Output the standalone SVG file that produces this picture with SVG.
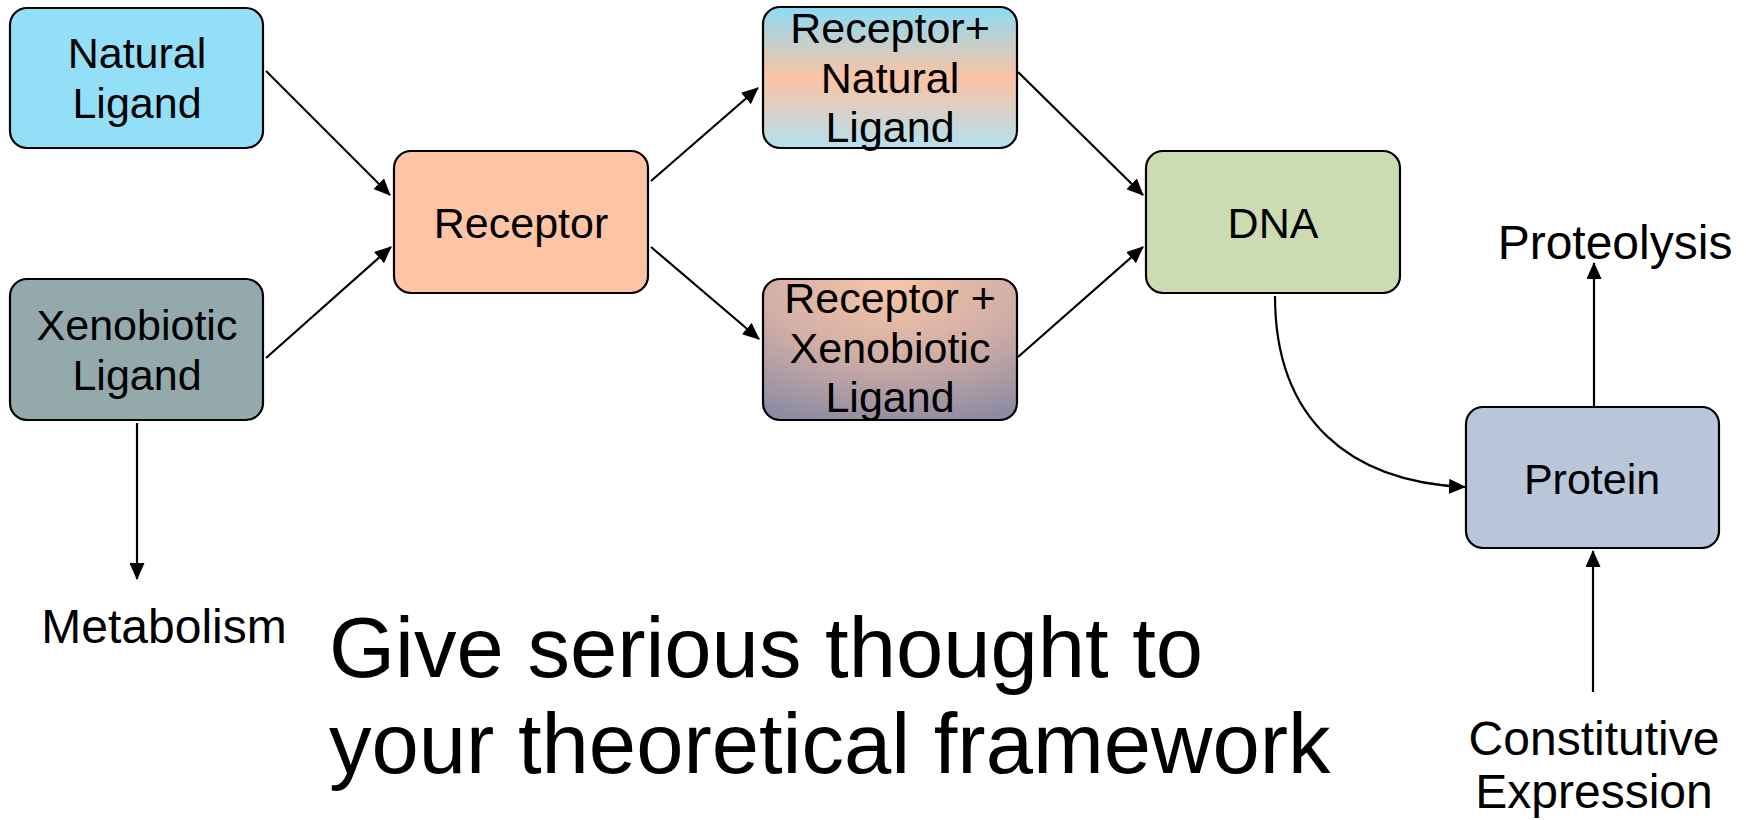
<svg xmlns="http://www.w3.org/2000/svg" width="1746" height="820" viewBox="0 0 1746 820">
<style>
.box{stroke:#000;stroke-width:2.2}
.t{font-family:"Liberation Sans",Arial,sans-serif;font-size:43px;fill:#000;text-anchor:middle}
.lbl{font-family:"Liberation Sans",Arial,sans-serif;font-size:48px;fill:#000;text-anchor:middle}
.big{font-family:"Liberation Sans",Arial,sans-serif;font-size:85px;fill:#000}
.c{fill:none;stroke:#000;stroke-width:2.2}
</style>
<defs>
<marker id="ah" markerUnits="userSpaceOnUse" markerWidth="17" markerHeight="15" refX="16" refY="7.5" orient="auto" viewBox="0 0 17 15">
<path d="M0,0 L17,7.5 L0,15 z" fill="#000"/>
</marker>
<linearGradient id="gN" x1="0" y1="0" x2="0" y2="1">
<stop offset="0" stop-color="#8cdbf6"/>
<stop offset="0.5" stop-color="#fbc3a4"/>
<stop offset="1" stop-color="#b2e1f0"/>
</linearGradient>
<radialGradient id="gX" cx="0.5" cy="0.05" r="1.0" fx="0.5" fy="0.05">
<stop offset="0" stop-color="#f6c6a6"/>
<stop offset="0.5" stop-color="#d2aea6"/>
<stop offset="1" stop-color="#8e8ca2"/>
</radialGradient>
</defs>
<rect width="1746" height="820" fill="#fff"/>

<g id="connectors">
<line class="c" x1="266" y1="71" x2="390" y2="195" marker-end="url(#ah)"/>
<line class="c" x1="266" y1="358" x2="391" y2="247" marker-end="url(#ah)"/>
<line class="c" x1="651" y1="181" x2="758" y2="88" marker-end="url(#ah)"/>
<line class="c" x1="651" y1="247" x2="759" y2="339" marker-end="url(#ah)"/>
<line class="c" x1="1018" y1="72" x2="1143" y2="195" marker-end="url(#ah)"/>
<line class="c" x1="1018" y1="357" x2="1143" y2="247" marker-end="url(#ah)"/>
<line class="c" x1="137" y1="423" x2="137" y2="579" marker-end="url(#ah)"/>
<path class="c" d="M1275,296 C1275,420 1350,482 1465,487" marker-end="url(#ah)"/>
<line class="c" x1="1594" y1="407" x2="1594" y2="263" marker-end="url(#ah)"/>
<line class="c" x1="1593" y1="692" x2="1593" y2="551" marker-end="url(#ah)"/>
</g>

<g id="natural-ligand">
<rect class="box" x="10" y="8" width="253" height="140" rx="17" fill="#93dff8"/>
<text class="t" x="137" y="68">Natural</text>
<text class="t" x="137" y="118">Ligand</text>
</g>
<g id="xenobiotic-ligand">
<rect class="box" x="10" y="279" width="253" height="141" rx="17" fill="#93a9ab"/>
<text class="t" x="137" y="340">Xenobiotic</text>
<text class="t" x="137" y="390">Ligand</text>
</g>
<g id="receptor">
<rect class="box" x="394" y="151" width="254" height="142" rx="17" fill="#fdc4a5"/>
<text class="t" x="521" y="238">Receptor</text>
</g>
<g id="receptor-natural">
<rect class="box" x="763" y="7" width="254" height="141" rx="17" fill="url(#gN)"/>
<text class="t" x="890" y="43">Receptor+</text>
<text class="t" x="890" y="93">Natural</text>
<text class="t" x="890" y="142">Ligand</text>
</g>
<g id="receptor-xenobiotic">
<rect class="box" x="763" y="279" width="254" height="141" rx="17" fill="url(#gX)"/>
<text class="t" x="890" y="313">Receptor +</text>
<text class="t" x="890" y="363">Xenobiotic</text>
<text class="t" x="890" y="412">Ligand</text>
</g>
<g id="dna">
<rect class="box" x="1146" y="151" width="254" height="142" rx="17" fill="#cddbb3"/>
<text class="t" x="1273" y="238">DNA</text>
</g>
<g id="protein">
<rect class="box" x="1466" y="407" width="253" height="141" rx="17" fill="#b7c6d9"/>
<text class="t" x="1592" y="494">Protein</text>
</g>
<g id="metabolism">
<text class="lbl" x="164" y="643">Metabolism</text>
</g>
<g id="proteolysis">
<text class="lbl" x="1615" y="259">Proteolysis</text>
</g>
<g id="constitutive-expression">
<text class="lbl" x="1594" y="755">Constitutive</text>
<text class="lbl" x="1594" y="808">Expression</text>
</g>
<g id="caption">
<text class="big" x="329" y="677">Give serious thought to</text>
<text class="big" x="329" y="773">your theoretical framework</text>
</g>
</svg>
